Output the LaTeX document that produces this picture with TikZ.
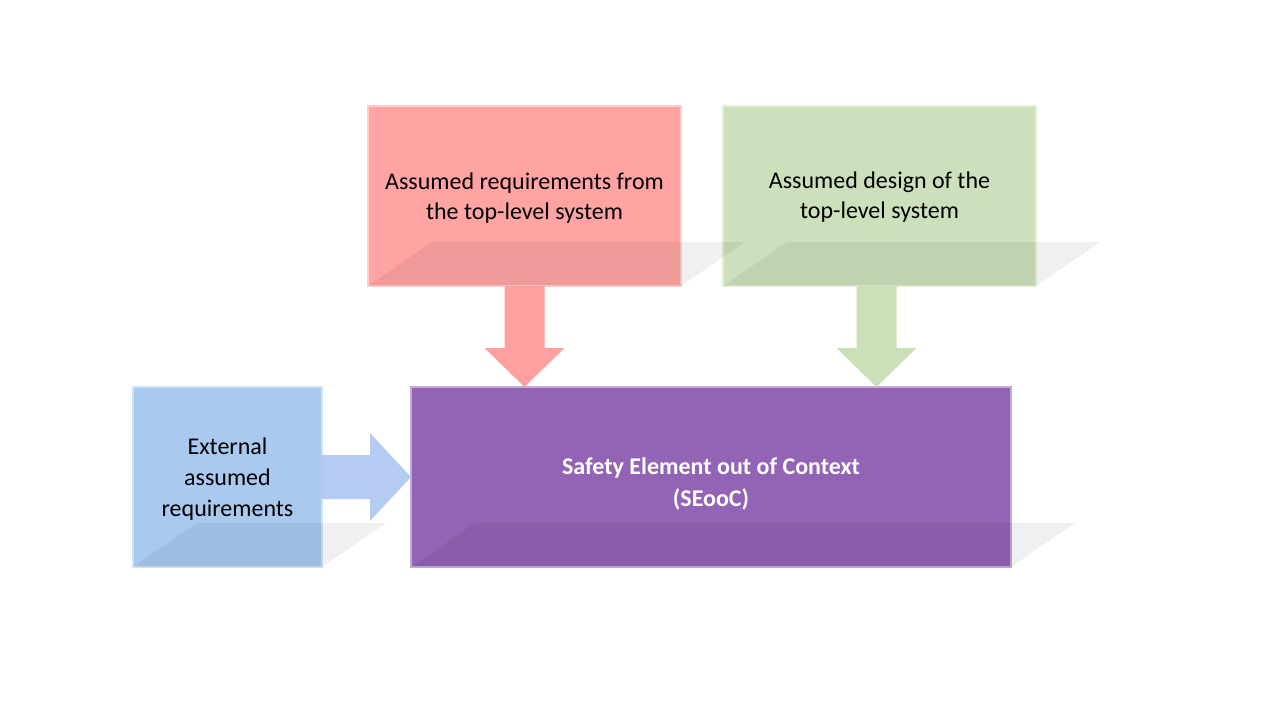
\documentclass[tikz,border=0pt]{standalone}
\usepackage{fontspec}
\setmainfont{Carlito}
\usetikzlibrary{calc}
\definecolor{redfill}{HTML}{FFA3A3}
\definecolor{greenfill}{HTML}{CCE1BB}
\definecolor{bluefill}{HTML}{A9C9EF}
\definecolor{purplefill}{HTML}{9363B5}
\definecolor{redarrow}{HTML}{FFA0A0}
\definecolor{greenarrow}{HTML}{CBE0B8}
\definecolor{bluearrow}{HTML}{B1C9F1}
\begin{document}
\begin{tikzpicture}[x=1pt,y=-1pt,
  box/.style={fill=#1, draw=#1!55!white, line width=2.5pt, inner sep=0pt, outer sep=0pt},
  lbl/.style={align=center, text=black, font=\fontsize{24}{30}\selectfont},
  shadowfill/.style={fill=black, opacity=0.06}]
\useasboundingbox (0,0) rectangle (1280,720);

% boxes
\node[box=redfill, minimum width=313pt, minimum height=180pt] (req) at (524.5,196) {};
\node[box=greenfill, minimum width=313pt, minimum height=180pt] (des) at (879.5,196) {};
\node[box=bluefill, minimum width=189pt, minimum height=180pt] (ext) at (227.5,477) {};
\node[box=purplefill, minimum width=600pt, minimum height=180pt] (seooc) at (711,477) {};

% shadows
\foreach \n in {req,des,ext,seooc}{
  \fill[shadowfill] (\n.south west) -- ($(\n.south west)+(64,-44)$) -- ($(\n.south east)+(64,-44)$) -- (\n.south east) -- cycle;
}

% arrows
\coordinate (rtip) at (req.south |- seooc.north);
\fill[redarrow] ($(req.south)+(-20,0)$) -- ($(rtip)+(-20,-39)$) -- ($(rtip)+(-40,-39)$) -- (rtip)
  -- ($(rtip)+(40,-39)$) -- ($(rtip)+(20,-39)$) -- ($(req.south)+(20,0)$) -- cycle;
\coordinate (gtip) at ($(des.south |- seooc.north)+(-3,0)$);
\fill[greenarrow] ($(des.south)+(-23,0)$) -- ($(gtip)+(-20,-39)$) -- ($(gtip)+(-40,-39)$) -- (gtip)
  -- ($(gtip)+(40,-39)$) -- ($(gtip)+(20,-39)$) -- ($(des.south)+(17,0)$) -- cycle;
\coordinate (btip) at (seooc.west |- ext.east);
\fill[bluearrow, opacity=0.95] ($(ext.east)+(-2,-22)$) -- ($(btip)+(-41,-22)$) -- ($(btip)+(-41,-44)$) -- (btip)
  -- ($(btip)+(-41,44)$) -- ($(btip)+(-41,22)$) -- ($(ext.east)+(-2,22)$) -- cycle;

% labels
\node[lbl] (reqtxt) at ($(req.center)+(0,2)$) {Assumed requirements from\\the top-level system};
\node[lbl] (destxt) at ($(des.center)+(0,1)$) {Assumed design of the\\top-level system};
\node[lbl, font=\fontsize{24}{31}\selectfont] (exttxt) at ($(ext.center)+(0,2)$) {External\\assumed\\requirements};
\node[align=center, text=white, font=\bfseries\fontsize{24}{32}\selectfont] (seotxt) at ($(seooc.center)+(0,7)$) {Safety Element out of Context\\(SEooC)};
\end{tikzpicture}
\end{document}
